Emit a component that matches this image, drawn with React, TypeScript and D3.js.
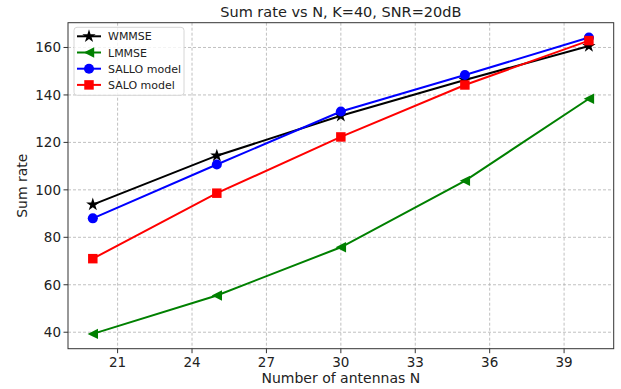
import React from "react";
import * as d3 from "d3";

const antennas = [20, 25, 30, 35, 40];
const wmmse = [93.8, 114.4, 131.2, 146.3, 160.6];
const lmmse = [39.3, 55.5, 75.8, 103.8, 138.4];
const sallo = [88.0, 110.7, 133.0, 148.4, 164.2];
const salo = [71.0, 98.6, 122.3, 144.2, 162.9];
const xTicks = [21, 24, 27, 30, 33, 36, 39];
const yTicks = [40, 60, 80, 100, 120, 140, 160];

const seriesNames = ["WMMSE", "LMMSE", "SALLO model", "SALO model"];
const seriesColors = ["#000000", "#008000", "#0000ff", "#ff0000"];
const seriesMarkers = ["star", "triangleLeft", "circle", "square"];

const W = 621;
const H = 389;
const M = { left: 68, right: 613.7, top: 22.7, bottom: 348.7 };
const FONT = "DejaVu Sans, sans-serif";

function markerPath(kind: string): string {
  switch (kind) {
    case "star":
      return d3.symbol(d3.symbolStar, 55)() as string;
    case "circle":
      return d3.symbol(d3.symbolCircle, 80)() as string;
    case "square":
      return d3.symbol(d3.symbolSquare, 90)() as string;
    default: {
      const s = 5.2;
      return `M${-s},0L${s},${-s}L${s},${s}Z`;
    }
  }
}

export default function App() {
  const values = [wmmse, lmmse, sallo, salo];
  const all = values.flat();
  const yMin = d3.min(all) as number;
  const yMax = d3.max(all) as number;
  const pad = (yMax - yMin) * 0.05;
  const x = d3.scaleLinear().domain([19, 41]).range([M.left, M.right]);
  const y = d3.scaleLinear().domain([yMin - pad, yMax + pad]).range([M.bottom, M.top]);
  const line = d3
    .line<number>()
    .x((_, i) => x(antennas[i]))
    .y((d) => y(d));

  const legX = 74;
  const legY = 27.3;
  const legW = 110;
  const legH = 68;

  return (
    <svg width={W} height={H} style={{ position: "absolute", left: 0, top: 0, background: "#fff" }}>
      <rect x={0} y={0} width={W} height={H} fill="#fff" />
      {xTicks.map((t) => (
        <line key={"gx" + t} x1={x(t)} x2={x(t)} y1={M.top} y2={M.bottom} stroke="#b0b0b0" strokeWidth={0.8} strokeDasharray="3,2" />
      ))}
      {yTicks.map((t) => (
        <line key={"gy" + t} x1={M.left} x2={M.right} y1={y(t)} y2={y(t)} stroke="#b0b0b0" strokeWidth={0.8} strokeDasharray="3,2" />
      ))}
      {values.map((v, si) => (
        <g key={"s" + si}>
          <path d={line(v) as string} fill="none" stroke={seriesColors[si]} strokeWidth={2} />
          {v.map((d, i) => (
            <path key={i} d={markerPath(seriesMarkers[si])} transform={`translate(${x(antennas[i])},${y(d)})`} fill={seriesColors[si]} />
          ))}
        </g>
      ))}
      <rect x={M.left} y={M.top} width={M.right - M.left} height={M.bottom - M.top} fill="none" stroke="#333" strokeWidth={1} />
      {xTicks.map((t) => (
        <g key={"tx" + t}>
          <line x1={x(t)} x2={x(t)} y1={M.bottom} y2={M.bottom + 4.5} stroke="#333" strokeWidth={1} />
          <text x={x(t)} y={M.bottom + 18} textAnchor="middle" fontFamily={FONT} fontSize={13.5} fill="#222">
            {t}
          </text>
        </g>
      ))}
      {yTicks.map((t) => (
        <g key={"ty" + t}>
          <line x1={M.left - 4.5} x2={M.left} y1={y(t)} y2={y(t)} stroke="#333" strokeWidth={1} />
          <text x={M.left - 7} y={y(t) + 5} textAnchor="end" fontFamily={FONT} fontSize={13.5} fill="#222">
            {t}
          </text>
        </g>
      ))}
      <text x={(M.left + M.right) / 2} y={17} textAnchor="middle" fontFamily={FONT} fontSize={14.5} fill="#222">
        Sum rate vs N, K=40, SNR=20dB
      </text>
      <text x={(M.left + M.right) / 2} y={383} textAnchor="middle" fontFamily={FONT} fontSize={14} fill="#222">
        Number of antennas N
      </text>
      <text transform={`translate(27,${(M.top + M.bottom) / 2}) rotate(-90)`} textAnchor="middle" fontFamily={FONT} fontSize={14} fill="#222">
        Sum rate
      </text>
      <rect x={legX} y={legY} width={legW} height={legH} rx={3} fill="#fff" fillOpacity={0.8} stroke="#d6d6d6" strokeWidth={1} />
      {seriesNames.map((n, i) => {
        const cy = legY + 9 + i * 16.2;
        return (
          <g key={"l" + i}>
            <line x1={legX + 3} x2={legX + 27} y1={cy} y2={cy} stroke={seriesColors[i]} strokeWidth={2} />
            <path d={markerPath(seriesMarkers[i])} transform={`translate(${legX + 15},${cy})`} fill={seriesColors[i]} />
            <text x={legX + 34} y={cy + 4} fontFamily={FONT} fontSize={11} fill="#222">
              {n}
            </text>
          </g>
        );
      })}
    </svg>
  );
}
